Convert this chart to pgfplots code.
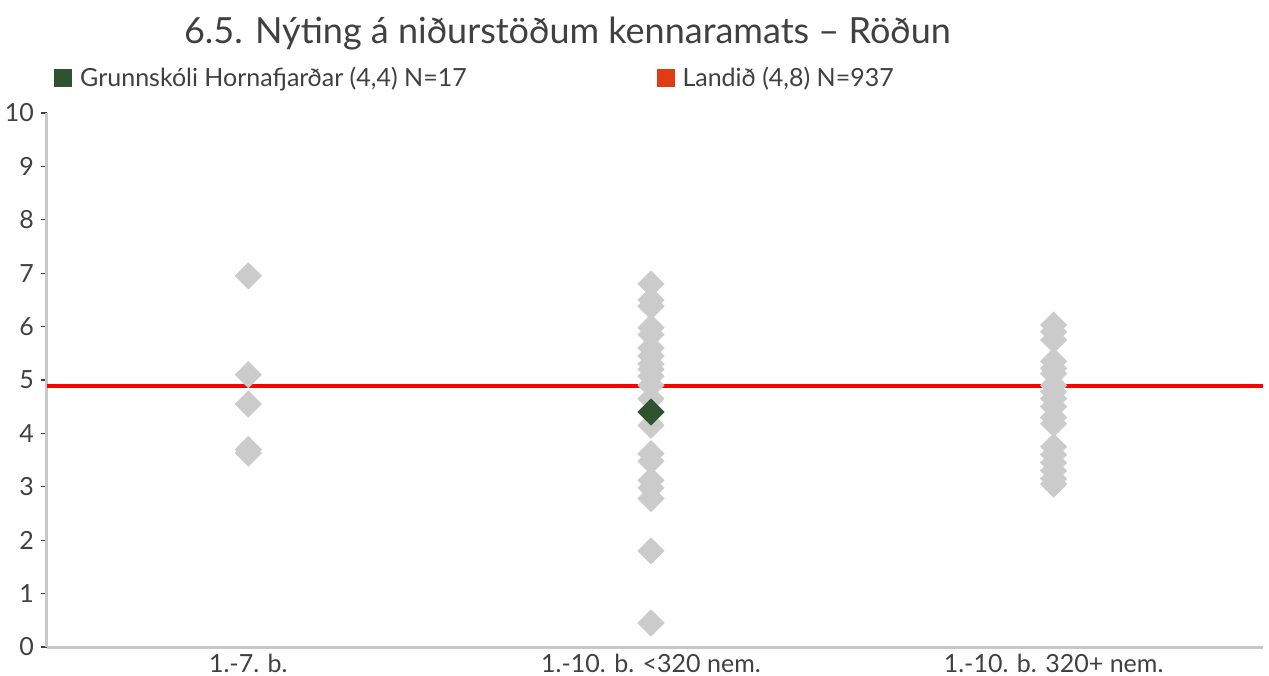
\documentclass[border=0pt]{standalone}
\usepackage{pgfplots}
\pgfplotsset{compat=1.18}
\usepackage{fontspec}
\setmainfont{Lato}
\definecolor{txt}{HTML}{404040}
\definecolor{axgray}{HTML}{C8C8C8}
\definecolor{ptgray}{HTML}{CBCBCB}
\definecolor{dgreen}{HTML}{2F5230}
\definecolor{lred}{HTML}{E03C14}
\begin{document}
\begin{tikzpicture}
\path[use as bounding box] (-23.5pt,-14pt) rectangle (611pt,323.5pt);
\begin{axis}[
  scale only axis, width=608pt, height=267pt,
  at={(0,0)}, anchor=south west,
  xmin=-0.5, xmax=2.52, ymin=0, ymax=10,
  xtick={0,1,2},
  xticklabels={1.-7. b., 1.-10. b. <320 nem., 1.-10. b. 320+ nem.},
  ytick={0,1,...,10},
  axis x line*=bottom, axis y line*=left,
  axis line style={axgray, line width=1.5pt},
  xtick style={draw=none},
  ytick style={txt, line width=0.6pt},
  major tick length=3pt, tick align=outside,
  tick label style={font=\fontsize{12.5}{15}\selectfont, text=txt},
  xticklabel style={yshift=3pt},
  /pgf/number format/assume math mode=true,
  clip=false,
  title={6.5. Nýting á niðurstöðum kennaramats – Röðun},
  title style={at={(rel axis cs:0.428,1)}, anchor=center, yshift=33.5pt, font=\fontsize{18}{22}\selectfont, text=txt},
  legend columns=2,
  legend style={draw=none, fill=none, at={(0,1)}, anchor=west, xshift=0.5pt, yshift=17.5pt,
    font=\fontsize{12.5}{15}\selectfont, text=txt,
    /tikz/every even column/.append style={column sep=93pt}},
  legend cell align=left,
]
\addlegendimage{legend image code/.code={\fill[dgreen] (0pt,-4.25pt) rectangle (8.5pt,4.25pt); \path (10.5pt,0pt);}}
\addlegendentry{Grunnskóli Hornafjarðar (4,4) N=17}
\addlegendimage{legend image code/.code={\fill[lred] (0pt,-4.25pt) rectangle (8.5pt,4.25pt); \path (10.5pt,0pt);}}
\addlegendentry{Landið (4,8) N=937}

\addplot[red, line width=2pt, forget plot] coordinates {(-0.5,4.88) (2.52,4.88)};

\addplot[only marks, mark=square*, mark size=4.6pt, color=ptgray,
  every mark/.append style={rotate=45}, forget plot] coordinates {
(0,6.95) (0,5.1) (0,4.55) (0,3.7) (0,3.63)
(1,6.8) (1,6.5) (1,6.38) (1,5.98) (1,5.85) (1,5.6) (1,5.45) (1,5.3) (1,5.2) (1,5.07)
(1,4.9) (1,4.65) (1,4.15) (1,3.62) (1,3.48) (1,3.12) (1,2.98) (1,2.78) (1,1.8) (1,0.45)
(2,6.03) (2,5.9) (2,5.75) (2,5.35) (2,5.22) (2,5.12) (2,4.9) (2,4.78) (2,4.65) (2,4.5)
(2,4.3) (2,4.18) (2,3.75) (2,3.6) (2,3.45) (2,3.3) (2,3.15) (2,3.05)
};
\addplot[only marks, mark=square*, mark size=4.6pt, color=dgreen,
  every mark/.append style={rotate=45}, forget plot] coordinates {(1,4.4)};
\end{axis}
\end{tikzpicture}
\end{document}
